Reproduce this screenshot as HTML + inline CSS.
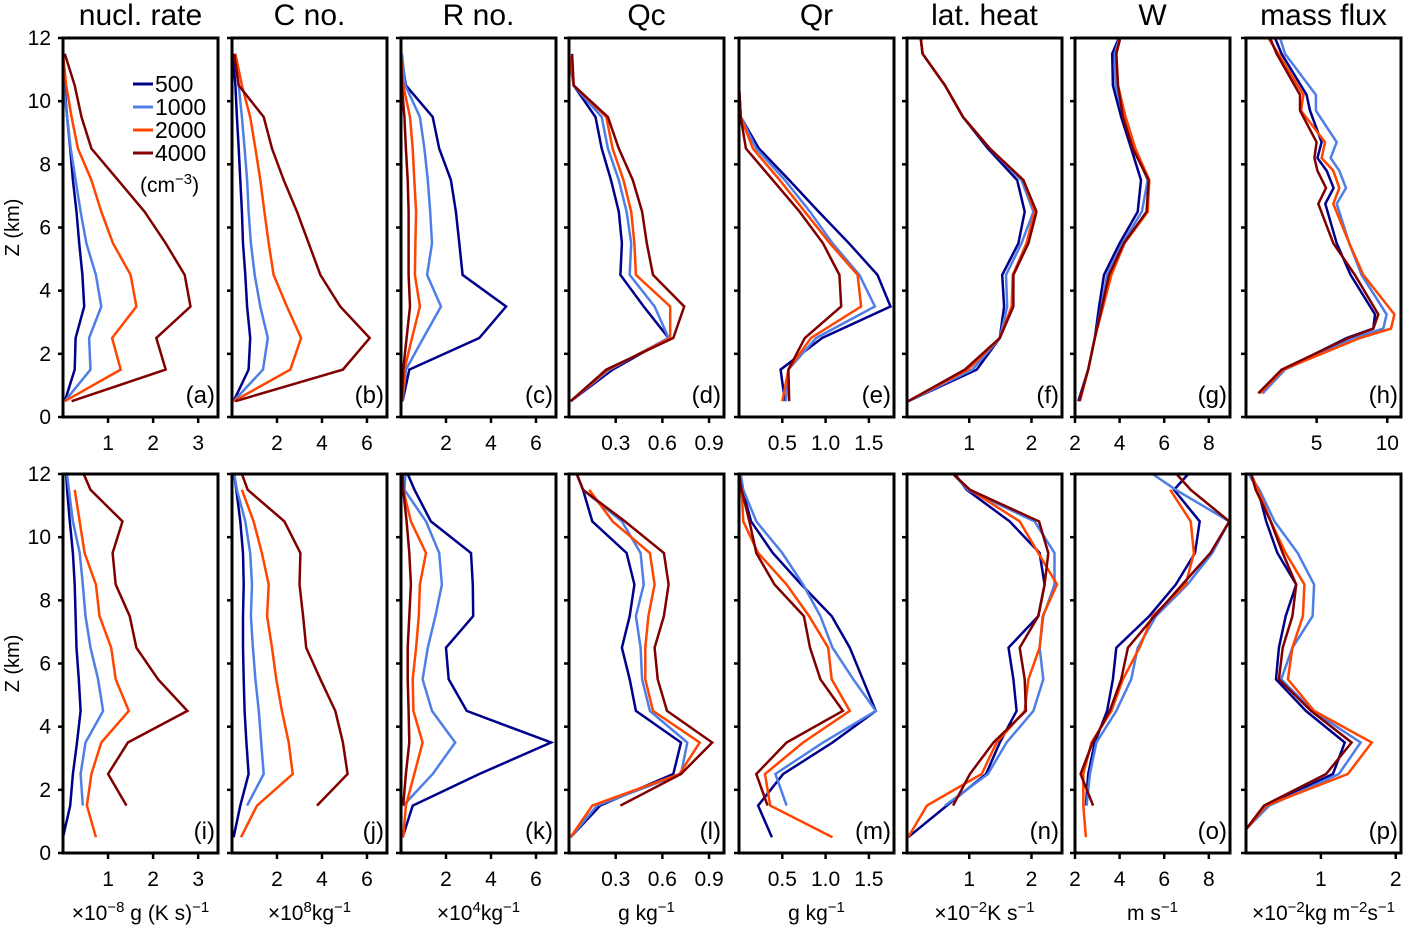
<!DOCTYPE html>
<html><head><meta charset="utf-8"><style>
html,body{margin:0;padding:0;background:#fff;}
svg{display:block;font-family:"Liberation Sans",Arial,sans-serif;}
</style></head><body>
<svg id="fig" width="1412" height="928" viewBox="0 0 1412 928" xmlns="http://www.w3.org/2000/svg"></svg>
<script>
// ---- data: vertical levels (km) ----
const zStd = [0.5,1.5,2.5,3.5,4.5,5.5,6.5,7.5,8.5,9.5,10.5,11.5,12];
const zH = [0.75,1.5,2.5,2.8,3.25,4.5,5.5,6.75,7.25,7.8,8.2,8.7,9.7,10.2,11.5,12];
const zP = [0.75,1.5,2.5,3.5,4.5,5.5,6.5,7.5,8.5,9.5,10.5,11.5,12];
const seriesNames = ["500","1000","2000","4000"];
// (a) nucleation rate
const a500=[.04,.26,.28,.47,.43,.36,.30,.22,.16,.09,.03,0];
const a1000=[.04,.61,.58,.85,.73,.52,.39,.28,.17,.09,.01,0];
const a2000=[.04,1.28,1.09,1.63,1.5,1.11,.85,.63,.33,.19,.07,0];
const a4000=[.19,2.28,2.07,2.83,2.7,2.28,1.81,1.22,.63,.41,.26,.04];
// (b) cloud number
const b500=[.07,.74,.81,.67,.59,.49,.44,.37,.3,.22,.15,.04];
const b1000=[.07,1.38,1.59,1.26,1.01,.84,.74,.67,.56,.44,.3,.1];
const b2000=[.07,2.59,3.07,2.44,1.85,1.63,1.44,1.26,1.04,.81,.44,.15];
const b4000=[.15,4.93,6.12,4.81,3.93,3.41,2.89,2.3,1.78,1.41,.3,.1];
// (c) rain number
const c500=[.07,.37,3.48,4.67,2.74,2.59,2.44,2.22,1.7,1.41,.22,0];
const c1000=[.07,.22,.99,1.78,1.16,1.38,1.3,1.19,1.04,.84,.19,.04];
const c2000=[.07,.15,.49,.84,.62,.64,.67,.59,.52,.4,.1,0];
const c4000=[.04,.1,.25,.4,.34,.34,.34,.3,.22,.15,.04,0];
// (d) Qc
const d500=[.01,.28,.64,.48,.33,.34,.32,.27,.21,.17,.03,0];
const d1000=[.01,.26,.64,.55,.39,.4,.37,.32,.25,.21,.03,0];
const d2000=[.01,.25,.65,.65,.43,.42,.4,.35,.28,.24,.03,0];
const d4000=[.01,.24,.67,.74,.54,.5,.47,.41,.32,.25,.03,.02];
// (e) Qr
const e500=[.53,.48,.96,1.75,1.6,1.27,.92,.58,.23,.02,0];
const e1000=[.54,.57,.89,1.57,1.39,1.08,.82,.53,.2,.02,0];
const e2000=[.5,.57,.83,1.41,1.37,1.05,.76,.47,.16,.02,0];
const e4000=[.58,.57,.76,1.18,1.16,.97,.7,.39,.08,.02,0];
// (f) latent heat
const f500=[.02,1.12,1.49,1.56,1.53,1.79,1.89,1.77,1.3,.9,.61,.25,.22];
const f1000=[.02,1.05,1.49,1.61,1.59,1.84,2.03,1.84,1.33,.9,.61,.25,.22];
const f2000=[.02,.98,1.49,1.68,1.7,1.92,2.05,1.87,1.33,.9,.61,.25,.22];
const f4000=[.02,.93,1.49,1.71,1.71,1.95,2.08,1.87,1.33,.9,.61,.25,.22];
// (g) W
const g500=[2.15,2.59,2.89,3.08,3.3,4.0,4.81,4.96,4.52,4.07,3.7,3.67,3.97];
const g1000=[2.19,2.59,2.89,3.19,3.44,4.12,5.0,5.26,4.67,4.18,3.82,3.78,4.0];
const g2000=[2.22,2.59,2.89,3.26,3.63,4.22,5.26,5.33,4.71,4.27,3.93,3.85,4.0];
const g4000=[2.19,2.59,2.89,3.21,3.53,4.19,5.21,5.3,4.59,4.15,3.93,3.85,4.03];
// (h) mass flux
const h500=[1.18,2.64,7.12,9.01,9.13,7.4,6.42,5.61,6.2,5.71,5.05,5.35,4.53,4.29,2.52,2.05];
const h1000=[1.18,2.76,7.59,9.72,9.95,8.18,7.31,6.42,7.08,6.6,5.99,6.42,4.95,4.95,2.76,2.41];
const h2000=[.99,2.64,8.07,10.26,10.5,8.3,7.31,6.18,6.6,6.18,5.35,5.59,3.89,4.06,2.29,1.58];
const h4000=[.87,2.52,7.24,9.01,9.36,7.71,6.18,5.12,5.66,5.05,4.84,5.0,3.82,3.82,2.17,1.7];
// (i)
const i500=[0,.16,.22,.31,.39,.35,.3,.28,.26,.22,.15,.09,.07];
const i1000=[null,.44,.39,.5,.89,.78,.61,.5,.44,.37,.22,.13,.09];
const i2000=[.73,.53,.63,.85,1.46,1.17,1.07,.81,.73,.48,.37,.26,null];
const i4000=[null,1.41,1.0,1.44,2.76,2.11,1.63,1.48,1.17,1.1,1.32,.61,.46];
// (j)
const j500=[.07,.37,.74,.64,.56,.52,.49,.49,.52,.49,.37,.19,.1];
const j1000=[null,.67,1.41,1.3,1.19,1.04,.93,.84,.89,.81,.59,.22,.1];
const j2000=[.4,1.11,2.7,2.52,2.22,1.97,1.78,1.56,1.63,1.33,.96,.44,null];
const j4000=[null,3.78,5.14,4.93,4.59,3.93,3.3,3.16,3.0,3.04,2.33,.7,.44];
// (k)
const k500=[.07,.52,3.48,6.67,2.92,2.12,2.0,3.21,3.19,3.11,1.33,.6,.3];
const k1000=[null,.1,1.41,2.41,1.38,.96,1.19,1.53,1.82,1.7,1.11,.15,.2];
const k2000=[.1,.22,.59,.96,.55,.52,.67,.79,.84,1.11,.44,.1,null];
const k4000=[null,.1,.22,.37,.34,.3,.3,.37,.44,.37,.25,.1,.07];
// (l)
const l500=[.01,.2,.67,.72,.43,.39,.34,.39,.42,.37,.15,.09,.05];
const l1000=[.01,.18,.72,.76,.52,.47,.46,.43,.48,.46,.34,.09,.05];
const l2000=[.01,.15,.71,.84,.54,.49,.49,.51,.55,.52,.28,.13,null];
const l4000=[null,.33,.72,.92,.63,.57,.55,.61,.64,.61,.36,.09,.05];
// (m)
const m500=[.38,.22,.51,1.08,1.58,1.43,1.28,1.07,.72,.39,.14,.04,0];
const m1000=[null,.55,.42,.97,1.58,1.32,1.08,.94,.74,.5,.2,.05,.02];
const m2000=[1.08,.36,.3,.74,1.28,1.07,1.03,.81,.55,.22,.05,.03,null];
const m4000=[null,.33,.2,.55,1.2,.94,.82,.75,.41,.2,.12,.03,0];
// (n)
const n500=[.02,.64,1.27,1.49,1.76,1.71,1.63,2.11,2.21,2.13,1.65,.96,.77];
const n1000=[null,.61,1.3,1.6,2.03,2.19,2.13,2.19,2.37,2.37,2.05,.98,.74];
const n2000=[.02,.32,1.2,1.44,1.89,1.95,2.13,2.18,2.41,2.11,1.81,1.01,.74];
const n4000=[null,.74,1.01,1.39,1.91,1.89,1.81,2.11,2.21,2.27,2.12,1.01,.74];
// (o)
const o500=[null,2.49,2.59,2.89,3.44,3.7,3.85,5.33,6.52,7.38,7.59,6.44,7.08];
const o1000=[null,2.52,2.67,2.96,3.85,4.52,4.81,5.63,7.04,8.15,8.92,6.52,5.48];
const o2000=[2.49,2.37,2.37,2.74,3.63,4.15,4.89,5.48,6.96,7.33,7.19,6.27,null];
const o4000=[null,2.81,2.25,2.79,3.56,4.07,4.37,5.56,6.81,8.07,8.92,7.19,6.55];
// (p)
const p500=[0,.27,1.16,1.32,.8,.4,.44,.53,.67,.42,.27,.16,.04];
const p1000=[0,.31,1.24,1.53,.89,.47,.62,.89,.91,.69,.38,.18,.04];
const p2000=[0,.27,1.36,1.68,.91,.56,.62,.76,.78,.53,.33,.16,.07];
const p4000=[0,.24,1.07,1.41,.87,.44,.49,.62,.67,.49,.33,.13,.07];
// tick labels
const ticksA=[1,2,3], ticksB=[2,4,6], ticksD=[0.3,0.6,0.9], ticksE=[0.5,1.0,1.5], ticksF=[1,2], ticksG=[2,4,6,8], ticksH=[5,10], ticksP=[1,2];
const zTicks=[0,2,4,6,8,10,12];

const colors=["#00008b","#4f7fe6","#ff4500","#800000"];
const NS="http://www.w3.org/2000/svg";
const svg=document.getElementById('fig');
function mk(tag,attrs,parent){const e=document.createElementNS(NS,tag);for(const k in attrs)e.setAttribute(k,attrs[k]);(parent||svg).appendChild(e);return e;}

const lefts=[63,232,401,569,739,907,1075,1246];
const W=155, H=379;
const tops=[38,474];
const titles=["nucl. rate","C no.","R no.","Qc","Qr","lat. heat","W","mass flux"];
const sup=s=>"<tspan dy='-8' font-size='15'>"+s+"</tspan>";
const units=["×10"+sup("−8")+"<tspan dy='8'> g (K s)</tspan>"+sup("−1"),
"×10"+sup("8")+"<tspan dy='8'>kg</tspan>"+sup("−1"),
"×10"+sup("4")+"<tspan dy='8'>kg</tspan>"+sup("−1"),
"g kg"+sup("−1"),"g kg"+sup("−1"),
"×10"+sup("−2")+"<tspan dy='8'>K s</tspan>"+sup("−1"),
"m s"+sup("−1"),
"×10"+sup("−2")+"<tspan dy='8'>kg m</tspan>"+sup("−2")+"<tspan dy='8'>s</tspan>"+sup("−1")];
const panels=[
 {id:'a',row:0,col:0,dom:[0,3.44],ticks:ticksA,z:zStd,s:[a500,a1000,a2000,a4000]},
 {id:'b',row:0,col:1,dom:[0,6.89],ticks:ticksB,z:zStd,s:[b500,b1000,b2000,b4000]},
 {id:'c',row:0,col:2,dom:[0,6.89],ticks:ticksB,z:zStd,s:[c500,c1000,c2000,c4000]},
 {id:'d',row:0,col:3,dom:[0,0.996],ticks:ticksD,z:zStd,s:[d500,d1000,d2000,d4000]},
 {id:'e',row:0,col:4,dom:[0,1.79],ticks:ticksE,z:zStd,s:[e500,e1000,e2000,e4000]},
 {id:'f',row:0,col:5,dom:[0,2.49],ticks:ticksF,z:zStd,s:[f500,f1000,f2000,f4000]},
 {id:'g',row:0,col:6,dom:[2,8.95],ticks:ticksG,z:zStd,s:[g500,g1000,g2000,g4000]},
 {id:'h',row:0,col:7,dom:[0,10.97],ticks:ticksH,z:zH,s:[h500,h1000,h2000,h4000]},
 {id:'i',row:1,col:0,dom:[0,3.44],ticks:ticksA,z:zStd,s:[i500,i1000,i2000,i4000]},
 {id:'j',row:1,col:1,dom:[0,6.89],ticks:ticksB,z:zStd,s:[j500,j1000,j2000,j4000]},
 {id:'k',row:1,col:2,dom:[0,6.89],ticks:ticksB,z:zStd,s:[k500,k1000,k2000,k4000]},
 {id:'l',row:1,col:3,dom:[0,0.996],ticks:ticksD,z:zStd,s:[l500,l1000,l2000,l4000]},
 {id:'m',row:1,col:4,dom:[0,1.79],ticks:ticksE,z:zStd,s:[m500,m1000,m2000,m4000]},
 {id:'n',row:1,col:5,dom:[0,2.49],ticks:ticksF,z:zStd,s:[n500,n1000,n2000,n4000]},
 {id:'o',row:1,col:6,dom:[2,8.95],ticks:ticksG,z:zStd,s:[o500,o1000,o2000,o4000]},
 {id:'p',row:1,col:7,dom:[0,2.07],ticks:ticksP,z:zP,s:[p500,p1000,p2000,p4000]}
];

titles.forEach((t,c)=>{
  const el=mk('text',{x:lefts[c]+W/2,y:25,'text-anchor':'middle','font-size':30});
  el.textContent=t;
  
  
  const u=mk('text',{x:lefts[c]+W/2,y:920,'text-anchor':'middle','font-size':21});
  u.innerHTML=units[c];
  
  
});
[0,1].forEach(r=>{
  const yl=mk('text',{x:0,y:0,'text-anchor':'middle','font-size':20,transform:`translate(19,${tops[r]+H/2}) rotate(-90)`});
  yl.textContent='Z (km)';
  
  
});

panels.forEach(p=>{
  const L=lefts[p.col], T=tops[p.row];
  const g=mk('g',{});
  
  
  const xs=v=>L+(v-p.dom[0])/(p.dom[1]-p.dom[0])*W;
  const ys=z=>T+H-(z/12)*H;
  zTicks.forEach(z=>{
    mk('line',{x1:L-5,x2:L,y1:ys(z),y2:ys(z),stroke:'#000','stroke-width':2.5},g);
    if(p.col===0){
      const t=mk('text',{x:L-12,y:ys(z)+7,'text-anchor':'end','font-size':21},g);
      t.textContent=z;
      
      
    }
  });
  p.ticks.forEach(v=>{
    const x=xs(v);
    mk('line',{x1:x,x2:x,y1:T+H,y2:T+H+6,stroke:'#000','stroke-width':2.5},g);
    const t=mk('text',{x:x,y:T+H+33,'text-anchor':'middle','font-size':21},g);
    t.textContent=(p.ticks===ticksD||p.ticks===ticksE)?v.toFixed(1):v;
    
    
  });
  p.s.forEach((arr,si)=>{
    let d='';let started=false;
    arr.forEach((v,k)=>{
      if(v===null||v===undefined){return;}
      d+=(started?'L':'M')+xs(v).toFixed(1)+','+ys(p.z[k]).toFixed(1);started=true;
    });
    const path=mk('path',{d:d,fill:'none',stroke:colors[si],'stroke-width':2.5,'stroke-linejoin':'miter'},g);
    
    
  });
  const fr=mk('rect',{x:L,y:T,width:W,height:H,fill:'none',stroke:'#000','stroke-width':3},g);
  
  
  const lab=mk('text',{x:L+W-3,y:T+H-14,'text-anchor':'end','font-size':24},g);
  lab.textContent='('+p.id+')';
  
  
});

const lg=mk('g',{});


seriesNames.forEach((n,i)=>{
  const y=84+i*23;
  mk('line',{x1:133,x2:153,y1:y,y2:y,stroke:colors[i],'stroke-width':3},lg);
  const t=mk('text',{x:155,y:y+8,'font-size':23},lg);
  t.textContent=n;
  
  
});
const cu=mk('text',{x:140,y:192,'font-size':21},lg);
cu.innerHTML="(cm<tspan dy='-8' font-size='15'>−3</tspan><tspan dy='8'>)</tspan>";


</script>
</body></html>
